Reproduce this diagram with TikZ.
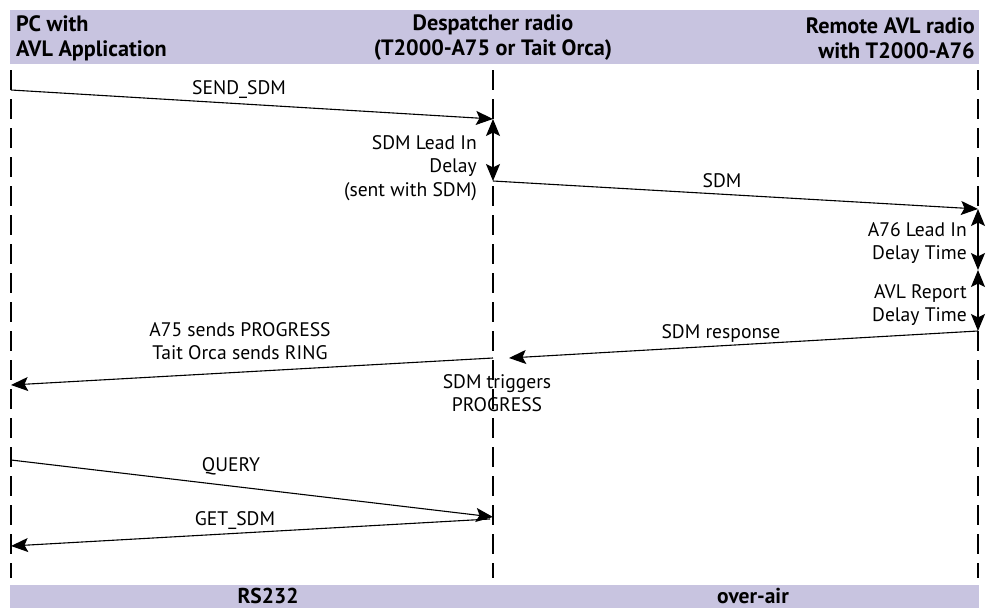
\documentclass[tikz,border=0pt]{standalone}
\usepackage{fontspec}
\setmainfont{PT Sans}
\usetikzlibrary{arrows.meta}
\definecolor{bandfill}{RGB}{200,196,224}
\begin{document}
\begin{tikzpicture}[x=1pt,y=-1pt,
  font=\fontsize{19.6}{23.5}\selectfont,
  tip/.tip={Stealth[length=17pt,width=14pt,inset=3.5pt]},
  lifeline/.style={line width=1.3pt, dash pattern=on 20pt off 9pt},
  msg/.style={line width=1.1pt, -tip},
  span/.style={line width=1.2pt, tip-tip},
  lbl/.style={inner sep=0pt, align=center},
  rlbl/.style={inner sep=0pt, align=right, anchor=east},
  head/.style={inner sep=0pt, font=\fontsize{22.2}{25}\selectfont\bfseries},
  foot/.style={inner sep=0pt, anchor=base, text depth=0pt,
    font=\fontsize{21.5}{25}\selectfont\bfseries}]
\useasboundingbox (0,0) rectangle (986,608);

% header and footer bands
\fill[bandfill] (10,10) rectangle (979,64);
\fill[bandfill] (10,585) rectangle (979,608);

\node[head, anchor=west, align=left] (hpc) at (16,38) {PC with\\AVL Application};
\node[head, align=center] (hdesp) at (493,38) {Despatcher radio\\(T2000-A75 or Tait Orca)};
\node[head, anchor=east, align=right] (hrem) at (975,38) {Remote AVL radio\\with T2000-A76};

\node[foot] (frs) at (268,603) {RS232};
\node[foot] (fair) at (753,603) {over-air};

% lifelines
\coordinate (pcTop) at (11,70);   \coordinate (pcBot) at (11,578);
\coordinate (dpTop) at (493,70);  \coordinate (dpBot) at (493,578);
\coordinate (rmTop) at (978,70);  \coordinate (rmBot) at (978,578);
\draw[lifeline] (pcTop) -- (pcBot);
\draw[lifeline] (dpTop) -- (dpBot);
\draw[lifeline] (rmTop) -- (rmBot);

% message end points
\coordinate (pc1) at (11,90);
\coordinate (dp1) at (493,119);
\coordinate (dp2) at (493,181);
\coordinate (rm1) at (978,209);
\coordinate (rm2) at (978,270);
\coordinate (rm3) at (978,331);
\coordinate (dpR) at (509,358);
\coordinate (dp3) at (493,358);
\coordinate (pc2) at (11,385);
\coordinate (pc3) at (11,460);
\coordinate (dp4) at (493,517);
\coordinate (dp5) at (490,519);
\coordinate (pc4) at (11,546);

% messages and delays
\draw[msg] (pc1) -- (dp1);
\draw[span] (dp1) -- (dp2);
\draw[msg] (dp2) -- (rm1);
\draw[span] (rm1) -- (rm2);
\draw[span] (rm2) -- (rm3);
\draw[msg] (rm3) -- (dpR);
\draw[msg] (dp3) -- (pc2);
\draw[msg] (pc3) -- (dp4);
\draw[msg] (dp5) -- (pc4);

% labels
\node[lbl] (tSend) at (239,90) {SEND\_SDM};
\node[rlbl] (tLead) at (477,168) {SDM Lead In\\Delay\\(sent with SDM)};
\node[lbl] (tSdm) at (722,181) {SDM};
\node[rlbl] (tA76) at (967,243) {A76 Lead In\\Delay Time};
\node[rlbl] (tAvl) at (967,305) {AVL Report\\Delay Time};
\node[lbl] (tResp) at (721,333) {SDM response};
\node[lbl] (tA75) at (240,341) {A75 sends PROGRESS\\Tait Orca sends RING};
\node[lbl] (tTrig) at (497,393) {SDM triggers\\PROGRESS};
\node[lbl] (tQuery) at (231,466) {QUERY};
\node[lbl] (tGet) at (235,521) {GET\_SDM};
\end{tikzpicture}
\end{document}
